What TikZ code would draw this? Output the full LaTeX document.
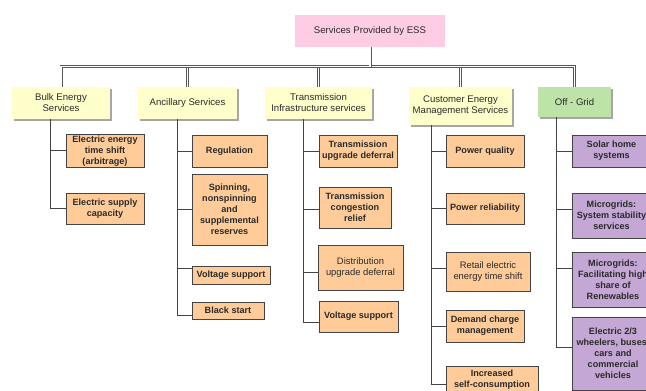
\documentclass[tikz,border=0pt]{standalone}
\usepackage{fontspec}
\setmainfont{Liberation Sans}
\usetikzlibrary{shadows}
\definecolor{pinkc}{HTML}{FFCCE6}
\definecolor{yellowc}{HTML}{FFFFCC}
\definecolor{greenc}{HTML}{BDE3A8}
\definecolor{orangec}{HTML}{FFCC99}
\definecolor{purplec}{HTML}{C4A7D4}
\definecolor{linec}{HTML}{444444}
\definecolor{txtc}{HTML}{2A2A2A}
\begin{document}
\begin{tikzpicture}[x=1pt,y=-1pt,
  sz/.style 2 args={minimum width=#1pt, minimum height=#2pt},
  base/.style={align=center, inner sep=1pt, text=txtc, font=\fontsize{9.3}{11}\selectfont},
  rootbox/.style={base, fill=pinkc, font=\fontsize{9.6}{11}\selectfont},
  catbox/.style={base, fill=yellowc, font=\fontsize{9.6}{11}\selectfont,
    drop shadow={shadow xshift=1.5pt, shadow yshift=-1.5pt, fill=black!35, opacity=1}},
  gridbox/.style={catbox, fill=greenc},
  leafbox/.style={base, fill=orangec, draw=linec, line width=0.8pt, font=\bfseries\fontsize{9.1}{11}\selectfont},
  leafreg/.style={leafbox, font=\fontsize{9.4}{11}\selectfont},
  offbox/.style={leafbox, fill=purplec},
  bus/.style={draw=linec!90, line width=0.7pt, double=white, double distance=1.6pt},
  conn/.style={draw=linec, line width=0.8pt}]
\useasboundingbox (0,0) rectangle (646,391);
\clip (0,0) rectangle (646,391);

% root and categories
\node[rootbox, sz={150}{32}] (root) at (370,31) {Services Provided by ESS};
\node[catbox, sz={98}{32}] (bulk) at (61,103) {Bulk Energy\\Services};
\node[catbox, sz={99}{32}] (anc) at (187.5,103) {Ancillary Services};
\node[catbox, sz={107}{32}] (trans) at (318.5,103) {Transmission\\Infrastructure services};
\node[catbox, sz={103}{38}] (cust) at (460.5,106) {Customer Energy\\Management Services};
\node[gridbox, sz={73}{30}] (off) at (574.5,102) {Off - Grid};

% bus
\coordinate (j) at (370,66.5);
\draw[bus] (root.south) -- (j) -| (cust.north);
\draw[bus] (root.south) -- (j) -| (off.north);
\draw[bus] (root.south) -- (j) -| (trans.north);
\draw[bus] (root.south) -- (j) -| (anc.north);
\draw[bus] (root.south) -- (j) -| (bulk.north);

% bulk children
\node[leafbox, sz={78}{32}] (b1) at (105,151) {Electric energy\\time shift\\(arbitrage)};
\node[leafbox, sz={78}{31}] (b2) at (105,208.5) {Electric supply\\capacity};
% ancillary children
\node[leafbox, sz={75}{32}] (a1) at (229.5,151) {Regulation};
\node[leafbox, sz={75}{71}] (a2) at (229.5,209.5) {Spinning,\\nonspinning\\and\\supplemental\\reserves};
\node[leafbox, sz={78}{18}] (a3) at (231,275) {Voltage support};
\node[leafbox, sz={72}{17}] (a4) at (228,310.5) {Black start};
% transmission children
\node[leafbox, sz={78}{32}] (t1) at (358,151) {Transmission\\upgrade deferral};
\node[leafbox, sz={72}{41}] (t2) at (355,207.5) {Transmission\\congestion\\relief};
\node[leafreg, sz={85}{45}] (t3) at (360.5,267.5) {Distribution\\upgrade deferral};
\node[leafbox, sz={79}{31}] (t4) at (358.5,316.5) {Voltage support};
% customer children
\node[leafbox, sz={78}{32}] (c1) at (485,151) {Power quality};
\node[leafbox, sz={78}{31}] (c2) at (485,208.5) {Power reliability};
\node[leafreg, sz={84}{39}] (c3) at (488,271.5) {Retail electric\\energy time shift};
\node[leafbox, sz={78}{32}] (c4) at (485,326) {Demand charge\\management};
\node[leafbox, sz={92}{36}] (c5) at (492,384) {Increased\\self-consumption\\of solar PV};
% off-grid children
\node[offbox, sz={79}{32}] (o1) at (611.5,151) {Solar home\\systems};
\node[offbox, sz={79}{45}] (o2) at (611.5,215.5) {Microgrids:\\System stability\\services};
\node[offbox, sz={82}{55}] (o3) at (613,279.5) {Microgrids:\\Facilitating high\\share of\\Renewables};
\node[offbox, sz={82}{73}] (o4) at (613,353.5) {Electric 2/3\\wheelers, buses,\\cars and\\commercial\\vehicles};

% connectors
\draw[conn] ([xshift=-11pt]bulk.south) |- ([yshift=1pt]b1.west);
\draw[conn] ([xshift=-11pt]bulk.south) |- (b2.west);

\draw[conn] ([xshift=-10.5pt]anc.south) |- (a1.west);
\draw[conn] ([xshift=-10.5pt]anc.south) |- (a2.west);
\draw[conn] ([xshift=-10.5pt]anc.south) |- ([yshift=7pt]a3.west);
\draw[conn] ([xshift=-10.5pt]anc.south) |- ([yshift=-4.5pt]a4.west);

\draw[conn] ([xshift=-15.5pt]trans.south) |- (t1.west);
\draw[conn] ([xshift=-15.5pt]trans.south) |- ([yshift=-1.5pt]t2.west);
\draw[conn] ([xshift=-15.5pt]trans.south) |- ([yshift=-4.5pt]t3.west);
\draw[conn] ([xshift=-15.5pt]trans.south) |- ([yshift=-5.5pt]t4.west);

\draw[conn] ([xshift=-29.5pt]cust.south) |- (c1.west);
\draw[conn] ([xshift=-29.5pt]cust.south) |- (c2.west);
\draw[conn] ([xshift=-29.5pt]cust.south) |- ([yshift=3.5pt]c3.west);
\draw[conn] ([xshift=-29.5pt]cust.south) |- (c4.west);
\draw[conn] ([xshift=-29.5pt]cust.south) |- (c5.west);

\draw[conn] ([xshift=-18.5pt]off.south) |- (o1.west);
\draw[conn] ([xshift=-18.5pt]off.south) |- ([yshift=6.5pt]o2.west);
\draw[conn] ([xshift=-18.5pt]off.south) |- ([yshift=11.5pt]o3.west);
\draw[conn] ([xshift=-18.5pt]off.south) |- ([yshift=6.5pt]o4.west);
\end{tikzpicture}
\end{document}
